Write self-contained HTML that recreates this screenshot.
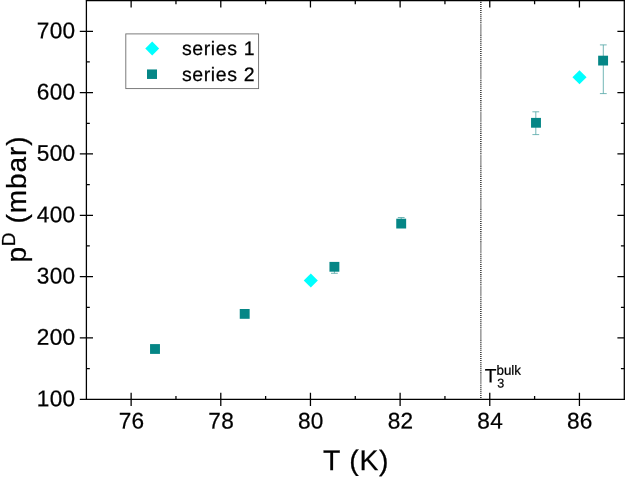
<!DOCTYPE html>
<html><head><meta charset="utf-8"><title>pD vs T</title>
<style>html,body{margin:0;padding:0;background:#fff;}svg{display:block;}text{font-family:"Liberation Sans",Arial,sans-serif;fill:#000;stroke:#000;stroke-width:0.25px;}</style></head><body>
<svg width="625" height="477" viewBox="0 0 625 477">
<rect x="0" y="0" width="625" height="477" fill="#fff"/>
<line x1="480.85" y1="-0.188" x2="480.85" y2="399.3" stroke="#222" stroke-width="1.4" stroke-dasharray="1.0235 1.0235"/>
<g stroke="#000" stroke-width="1.28" fill="none" stroke-linecap="butt">
<path d="M86.4 399.3 V-0.04999999999999993 M624.3 400.0 V-0.04999999999999993 M85.7 0.65 H625.0 M79.80000000000001 399.3 H625.0"/>
<path d="M131.13 392.7 V405.90000000000003 M131.13 0.65 V7.55 M175.96 395.90000000000003 V399.3 M175.96 0.65 V4.35 M220.79 392.7 V405.90000000000003 M220.79 0.65 V7.55 M265.62 395.90000000000003 V399.3 M265.62 0.65 V4.35 M310.45 392.7 V405.90000000000003 M310.45 0.65 V7.55 M355.28 395.90000000000003 V399.3 M355.28 0.65 V4.35 M400.11 392.7 V405.90000000000003 M400.11 0.65 V7.55 M444.94 395.90000000000003 V399.3 M444.94 0.65 V4.35 M489.77 392.7 V405.90000000000003 M489.77 0.65 V7.55 M534.6 395.90000000000003 V399.3 M534.6 0.65 V4.35 M579.43 392.7 V405.90000000000003 M579.43 0.65 V7.55 M86.4 368.63 H89.80000000000001 M620.9 368.63 H624.3 M79.80000000000001 337.97 H93.0 M617.4 337.97 H624.3 M86.4 307.3 H89.80000000000001 M620.9 307.3 H624.3 M79.80000000000001 276.63 H93.0 M617.4 276.63 H624.3 M86.4 245.97 H89.80000000000001 M620.9 245.97 H624.3 M79.80000000000001 215.3 H93.0 M617.4 215.3 H624.3 M86.4 184.63 H89.80000000000001 M620.9 184.63 H624.3 M79.80000000000001 153.97 H93.0 M617.4 153.97 H624.3 M86.4 123.3 H89.80000000000001 M620.9 123.3 H624.3 M79.80000000000001 92.63 H93.0 M617.4 92.63 H624.3 M86.4 61.97 H89.80000000000001 M620.9 61.97 H624.3 M79.80000000000001 31.3 H93.0 M617.4 31.3 H624.3"/>
</g>
<g font-size="22.6px" letter-spacing="0.3">
<text transform="translate(131.53 428.6) rotate(0.03)" text-anchor="middle">76</text>
<text transform="translate(221.19 428.6) rotate(0.03)" text-anchor="middle">78</text>
<text transform="translate(310.85 428.6) rotate(0.03)" text-anchor="middle">80</text>
<text transform="translate(400.51 428.6) rotate(0.03)" text-anchor="middle">82</text>
<text transform="translate(490.17 428.6) rotate(0.03)" text-anchor="middle">84</text>
<text transform="translate(579.83 428.6) rotate(0.03)" text-anchor="middle">86</text>
<text transform="translate(75.45 406.20) rotate(0.03)" text-anchor="end">100</text>
<text transform="translate(75.45 344.87) rotate(0.03)" text-anchor="end">200</text>
<text transform="translate(75.45 283.53) rotate(0.03)" text-anchor="end">300</text>
<text transform="translate(75.45 222.20) rotate(0.03)" text-anchor="end">400</text>
<text transform="translate(75.45 160.87) rotate(0.03)" text-anchor="end">500</text>
<text transform="translate(75.45 99.53) rotate(0.03)" text-anchor="end">600</text>
<text transform="translate(75.45 38.20) rotate(0.03)" text-anchor="end">700</text>
</g>
<text transform="translate(323.0 470.1) rotate(0.03)" font-size="28.4px" letter-spacing="0.75">T (K)</text>
<g transform="translate(26.1 262.4) rotate(-90)"><text x="0" y="0" font-size="28px" letter-spacing="0.55">p<tspan font-size="19.1px" dy="-11.5" letter-spacing="0.4">D</tspan><tspan dy="11.5" letter-spacing="0.9"> (mbar)</tspan></text></g>
<text transform="translate(484.85 382.2) rotate(0.03)" font-size="19.2px">T</text>
<text transform="translate(496.5 374.7) rotate(0.03)" font-size="13.35px">bulk</text>
<text transform="translate(497.15 387.4) rotate(0.03)" font-size="12.6px">3</text>
<g stroke="#4fa5a5" stroke-width="0.8" fill="none"><path d="M334.4 266.8 V273.3 M331.0 273.3 H337.79999999999995"/></g>
<g stroke="#4fa5a5" stroke-width="0.8" fill="none"><path d="M401.2 223.6 V217.5 M397.8 217.5 H404.59999999999997"/></g>
<g stroke="#4fa5a5" stroke-width="0.8" fill="none"><path d="M535.8 122.8 V111.8 M532.4 111.8 H539.1999999999999"/><path d="M535.8 122.8 V134.6 M532.4 134.6 H539.1999999999999"/></g>
<g stroke="#4fa5a5" stroke-width="0.8" fill="none"><path d="M603.3 60.6 V44.9 M599.9 44.9 H606.6999999999999"/><path d="M603.3 60.6 V93.6 M599.9 93.6 H606.6999999999999"/></g>
<rect x="150.05" y="344.10" width="9.9" height="9.8" fill="#058686"/>
<rect x="239.75" y="309.00" width="9.9" height="9.8" fill="#058686"/>
<rect x="329.45" y="261.90" width="9.9" height="9.8" fill="#058686"/>
<rect x="396.25" y="218.70" width="9.9" height="9.8" fill="#058686"/>
<rect x="531.05" y="117.90" width="9.9" height="9.8" fill="#058686"/>
<rect x="598.15" y="55.70" width="9.9" height="9.8" fill="#058686"/>
<path d="M310.8 273.45 L317.85 280.5 L310.8 287.55 L303.75 280.5 Z" fill="#00ffff"/>
<path d="M579.5 70.15 L586.55 77.2 L579.5 84.25 L572.45 77.2 Z" fill="#00ffff"/>
<rect x="125.8" y="33.9" width="132.8" height="54.7" fill="#fff" stroke="#6e6e6e" stroke-width="0.9"/>
<path d="M152.2 41.55 L159.14999999999998 48.5 L152.2 55.45 L145.25 48.5 Z" fill="#00ffff"/>
<rect x="147.00" y="69.45" width="10.0" height="9.5" fill="#058686"/>
<text transform="translate(181.9 54.9) rotate(0.03)" font-size="19.5px" letter-spacing="0.62">series 1</text>
<text transform="translate(181.9 81.0) rotate(0.03)" font-size="19.5px" letter-spacing="0.62">series 2</text>
</svg></body></html>
